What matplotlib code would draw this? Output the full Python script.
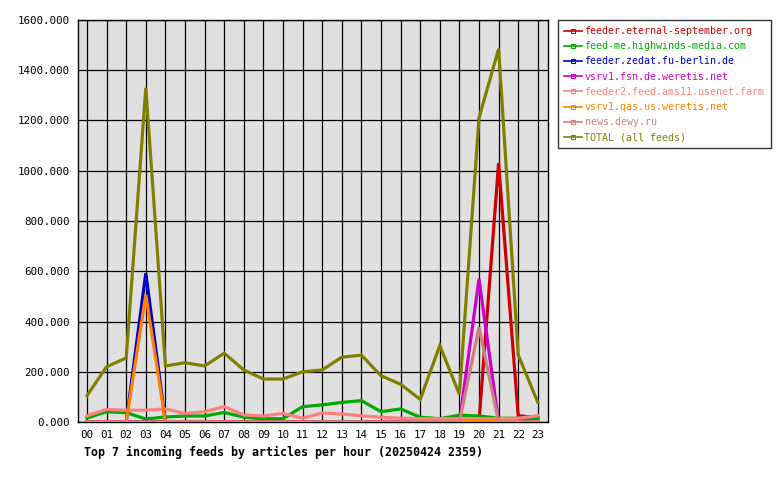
import matplotlib
matplotlib.use('Agg')
import matplotlib.pyplot as plt
from matplotlib.lines import Line2D

# hourly article counts per feed
hours = ['%02d' % h for h in range(24)]
eternal_september = [0, 0, 0, 0, 0, 0, 0, 0, 0, 0, 0, 0, 0, 0, 0, 0, 0, 0, 0, 0, 0, 1030, 25, 18]
highwinds = [16, 41, 37, 12, 20, 24, 24, 38, 19, 13, 13, 61, 68, 78, 85, 41, 52, 19, 13, 27, 24, 15, 15, 13]
zedat = [0, 0, 0, 592, 0, 0, 0, 0, 0, 0, 0, 0, 0, 0, 0, 0, 0, 0, 0, 0, 0, 0, 0, 0]
fsn_weretis = [0, 0, 0, 0, 0, 0, 0, 0, 0, 0, 0, 0, 0, 0, 0, 0, 0, 0, 0, 0, 570, 0, 0, 0]
ams11 = [25, 50, 47, 47, 52, 34, 41, 61, 28, 24, 34, 15, 36, 32, 25, 19, 15, 13, 13, 13, 13, 13, 15, 25]
qas_weretis = [0, 0, 0, 506, 0, 0, 0, 0, 0, 0, 0, 0, 0, 0, 0, 0, 0, 0, 0, 5, 5, 5, 0, 0]
dewy = [0, 0, 0, 0, 0, 0, 0, 0, 0, 0, 0, 0, 0, 0, 0, 0, 0, 0, 0, 0, 377, 0, 0, 0]
total = [105, 220, 255, 1330, 223, 236, 223, 274, 207, 171, 171, 200, 207, 258, 266, 184, 150, 90, 304, 110, 1210, 1485, 267, 78]

labels = ['feeder.eternal-september.org', 'feed-me.highwinds-media.com',
          'feeder.zedat.fu-berlin.de', 'vsrv1.fsn.de.weretis.net',
          'feeder2.feed.ams11.usenet.farm', 'vsrv1.qas.us.weretis.net',
          'news.dewy.ru', 'TOTAL (all feeds)']
series = [eternal_september, highwinds, zedat, fsn_weretis, ams11, qas_weretis, dewy, total]
colors = ['#cc0000', '#00aa00', '#0000cc', '#cc00cc', '#ff8080', '#ff8000', '#cc8080', '#808000']

plt.rcParams['font.family'] = ['DejaVu Sans Mono']

fig = plt.figure(figsize=(7.8, 4.8), dpi=100)
ax = fig.add_axes([78 / 780, 1 - 422 / 480, 470 / 780, 402 / 480])
ax.set_facecolor('#e0e0e0')

x = list(range(24))
for vals, col in zip(series, colors):
    ax.plot(x, vals, color=col, linewidth=2.3, solid_joinstyle='miter', zorder=3)

ax.set_xlim(-0.46, 23.52)
ax.set_ylim(0, 1600)
ax.set_xticks(x)
ax.set_xticklabels(hours)
ax.set_yticks(range(0, 1601, 200))
ax.set_yticklabels(['%d.000' % v for v in range(0, 1601, 200)])
ax.tick_params(length=0, labelsize=7.8, pad=6, colors='black')
ax.grid(True, color='black', linewidth=0.9)
ax.set_axisbelow(True)
for s in ax.spines.values():
    s.set_linewidth(1.0)

fig.text(84 / 780, 1 - 452 / 480, 'Top 7 incoming feeds by articles per hour (20250424 2359)',
         fontsize=8.4, fontweight='bold', va='center', ha='left')

handles = [Line2D([0], [0], color=c, linewidth=1.2, marker='s', markersize=3,
                  markerfacecolor='none', markeredgewidth=0.8) for c in colors]
leg = fig.legend(handles, labels, loc='upper left',
                 bbox_to_anchor=(558 / 780, 1 - 20 / 480), bbox_transform=fig.transFigure,
                 fontsize=7.2, frameon=True, fancybox=False, edgecolor='black',
                 handlelength=1.8, handletextpad=0.25, labelspacing=0.52,
                 borderpad=0.6, borderaxespad=0, numpoints=1)
leg.get_frame().set_linewidth(1.0)
for txt, c in zip(leg.get_texts(), colors):
    txt.set_color(c)

fig.savefig('out.png', dpi=100)
